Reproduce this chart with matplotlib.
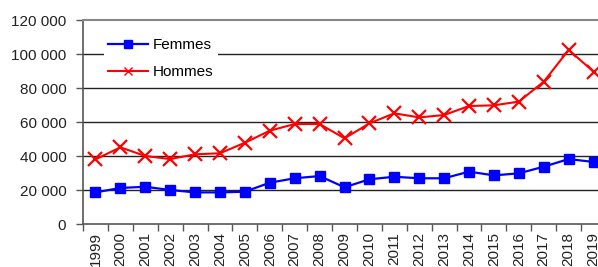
import matplotlib
matplotlib.use("Agg")
import matplotlib.pyplot as plt
from matplotlib.ticker import FixedLocator, FuncFormatter

plt.rcParams['font.family'] = ['Liberation Sans', 'DejaVu Sans']

years = [str(y) for y in range(1999, 2020)]
femmes = [18600, 21200, 21900, 20000, 18600, 18600, 19000, 24300, 26900, 28200,
          21600, 26300, 27800, 26900, 26900, 30800, 28600, 29800, 33700, 38200, 36500]
hommes = [38000, 45100, 40000, 38200, 41000, 41600, 47800, 54900, 58800, 58800,
          50400, 59200, 65100, 62700, 64100, 69400, 69800, 72000, 83700, 102400, 89600]
yticks = [0, 20000, 40000, 60000, 80000, 100000, 120000]

fig = plt.figure(figsize=(5.98, 2.67), dpi=100)
ax = fig.add_axes([83/598, 1-224/267, (606-83)/598, 204/267])

x = list(range(len(years)))
for yv in yticks[1:-1]:
    ax.axhline(yv, color='#222222', lw=1.0, zorder=1)

ax.plot(x, femmes, color='#0000FF', lw=1.6, marker='s', markersize=7.5,
        label='Femmes', zorder=3)
ax.plot(x, hommes, color='#FF0000', lw=1.5, marker='x', markersize=10,
        markeredgewidth=1.6, label='Hommes', zorder=3)

ax.set_xlim(-0.5, len(years) - 0.5)
ax.set_ylim(0, 120000)
ax.yaxis.set_major_locator(FixedLocator(yticks))
ax.yaxis.set_major_formatter(FuncFormatter(lambda v, p: f"{int(v):,}".replace(",", " ")))
ax.set_xticks([i - 0.5 for i in range(len(years) + 1)])
ax.set_xticklabels([])
ax.set_xticks(x, minor=True)
ax.set_xticklabels(years, minor=True, rotation=90)
ax.tick_params(axis='x', which='minor', length=0, pad=6, labelsize=11, colors='#222222')
ax.tick_params(axis='x', which='major', length=5, width=1, color='#555555')
ax.tick_params(axis='y', length=5, width=1, color='#555555', labelsize=11,
               labelcolor='#222222', pad=7)

for s in ['left', 'bottom']:
    ax.spines[s].set_color('#555555')
    ax.spines[s].set_linewidth(1.2)
ax.spines['right'].set_visible(False)
ax.spines['top'].set_color('#888888')
ax.spines['top'].set_linewidth(1.5)

leg = ax.legend(loc='upper left', bbox_to_anchor=(0.031, 0.955), fontsize=11,
                frameon=True, facecolor='white', edgecolor='none', framealpha=1,
                fancybox=False, handlelength=2.6, labelspacing=0.85, borderpad=0.3,
                handletextpad=0.3, borderaxespad=0.3)
leg.set_zorder(5)
hs = leg.legend_handles
hs[0].set_markersize(6)
hs[1].set_markersize(6)
hs[1].set_markeredgewidth(1.0)

fig.savefig('out.png', dpi=100)
